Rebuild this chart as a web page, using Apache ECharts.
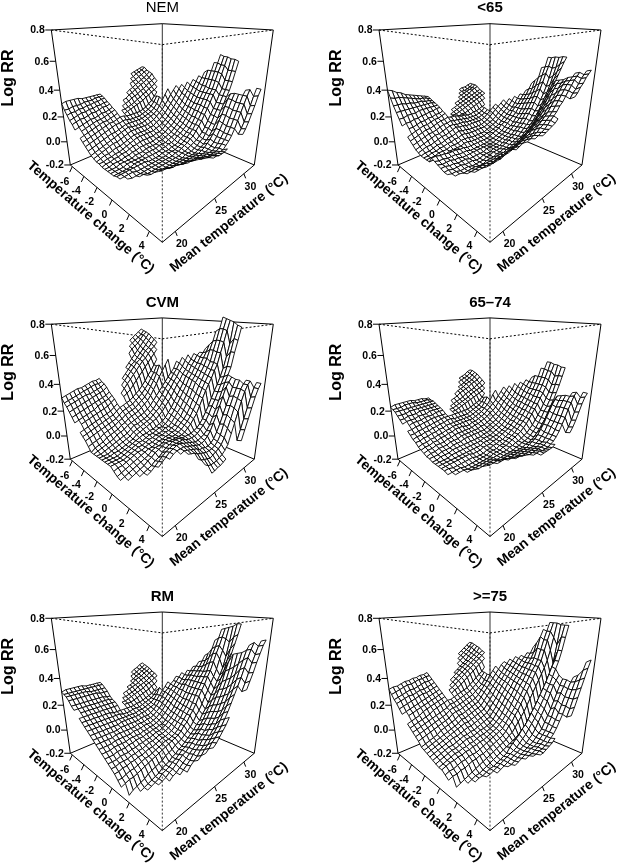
<!DOCTYPE html>
<html>
<head>
<meta charset="utf-8">
<script src="https://cdn.jsdelivr.net/npm/echarts@6/dist/echarts.min.js"></script>
<style>html,body{margin:0;padding:0;background:#fff}#main{width:617px;height:866px}</style>
</head>
<body>
<div id="main"></div>
<script>
// axis ranges of the box and tick labels
var tempRange = [-6.36, 5.14];
var meanRange = [18.65, 32.16];
var logRange = [-0.2, 0.8];
var tempTicks = [-6, -4, -2, 0, 2, 4];
var meanTicks = [20, 25, 30];
var logTicks = [-0.2, 0.0, 0.2, 0.4, 0.6, 0.8];
var panelNames = ['NEM', '<65', 'CVM', '65\u201374', 'RM', '>=75'];

// mesh has 33x33 nodes. Each table row is one temperature change node, written as
// [first mean temperature node, [log RR x 100, ...], next start, [...]], estimated from each panel
var meshSize = 33;
var holeCells = [[5,0],[6,0]];

var nem = [
	[0,[30,31,31,31,31,30,30,30,30,30,30],20,[41,42,43,44,45]],
	[0,[26,26,27,27,27,28,28,28,29,29,29],19,[38,39,41,42,43,45]],
	[0,[23,24,24,25,25,26,26,27,27,28,28],18,[35,36,37,39,40,42,43]],
	[0,[20,21,22,23,23,24,24,25,25,26,26],16,[29,31,32,34,35,37,38,40,42]],
	[0,[18,19,20,20,21,22,22,23,24,24,25],14,[25,26,28,29,31,32,34,35,37,38,41]],
	[0,[15,16,17,18,19,19,20,21,21,22,23],13,[22,23,24,26,27,28,30,31,33,35,36,38]],
	[0,[13,14,15,16,17,18,18,19,20,21,22],12,[20,20,21,22,23,25,26,28,29,31,32,34,36]],
	[0,[11,12,13,14,15,16,17,17,18,19,20],12,[18,19,20,21,22,23,24,26,27,29,30,32]],
	[0,[9,10,11,12,13,14,15,16,16,17,18,18,17,17,17,17,17,18,19,21,23,26,29]],
	[0,[7,8,9,10,11,12,13,14,15,15,16,16,15,15,15,15,16,17,18,20,23,27]],
	[0,[5,6,7,8,9,10,11,11,12,13,14,14,14,14,14,14,15,16,17,19,22,27]],
	[0,[3,4,5,6,7,8,9,10,11,12,13,12,12,12,12,13,14,15,16,18,21,25,29,33]],
	[0,[2,3,4,5,6,7,7,8,9,10,11,11,11,11,11,11,12,13,15,17,19,22,25,29,32,35]],
	[0,[1,2,3,3,4,5,5,6,7,8,9,9,9,9,9,10,10,12,13,15,17,20,23,26,29,33,36]],
	[0,[1,1,2,2,3,3,4,5,6,7,8,8,8,8,8,8,9,10,11,13,15,18,21,24,27,30,34,38]],
	[0,[0,1,1,2,2,3,3,4,5,5,6,6,6,6,6,7,7,8,10,12,14,16,19,22,25,29,32,36,40]],
	[0,[0,0,1,1,1,2,2,3,3,4,4,4,4,4,5,5,6,7,9,10,12,15,17,20,23,27,31,35,39,43]],
	[0,[0,0,0,1,1,1,1,2,2,2,3,3,3,3,4,4,5,6,7,9,11,13,16,19,22,26,30,34,38,42,46]],
	[0,[0,0,0,0,1,1,1,1,1,2,2,2,2,3,3,3,4,5,6,8,10,12,15,18,22,25,29,33,37,42,48]],
	[0,[0,0,0,0,0,1,1,1,1,1,1,1,1,2,2,3,3,4,6,7,9,11,14,17,21,25,29,33,37,42,48,54]],
	[0,[1,1,1,1,1,1,1,1,0,0,0,0,1,1,1,2,2,3,5,6,8,10,13,17,21,25,29,33,36,42,48,54,60]],
	[0,[1,1,1,1,0,0,0,0,0,0,0,0,0,1,1,1,2,3,4,6,8,10,13,16,20,24,29,33,36,42,48,53,59]],
	[1,[1,0,0,0,0,0,0,0,0,0,0,0,0,1,1,2,3,4,6,7,10,13,16,20,24,28,33,36,41,47,53,59]],
	[3,[1,1,0,0,0,0,0,0,0,0,0,0,1,1,2,3,4,5,7,9,12,16,20,24,28,33,37,43,50,58]],
	[4,[2,1,1,1,0,0,0,0,0,0,0,1,1,1,2,3,5,6,9,12,15,20,24,28,33,37,43,50,58]],
	[6,[3,2,2,1,1,1,1,1,1,1,1,1,2,3,4,6,8,11,15,19,24,28,33,37,43,50,57]],
	[8,[4,3,3,2,2,2,2,2,2,2,3,4,6,8,11,14,19,23,28,33,36]],
	[10,[5,4,4,3,3,3,3,3,3,4,5,7,10,14,18,23,28,33,37]],
	[11,[6,6,5,5,4,4,4,4,4,5,7,10,13,17,22,27,32,37]],
	[13,[7,6,6,5,5,5,5,6,8,10,13,17,22,27,32,37,40]],
	[14,[8,7,7,6,6,6,6,8,10,13,17,22,27,32,37,41]],
	[15,[8,8,7,7,7,8],24,[14,17,21,26,31,37,42]],
	[24,[15,18,22,27,32,38,42]]
];
var under65 = [
	[0,[40,39,37,36,34,33,32,31,30,29,28],20,[27,28,28,29,30]],
	[0,[35,34,34,33,32,31,30,29,29,28,27],19,[25,26,26,27,28,30]],
	[0,[30,30,30,29,29,28,28,28,27,27,26],18,[23,24,25,26,27,28,30]],
	[0,[26,26,26,26,26,26,26,26,26,26,25],16,[20,21,22,23,24,25,27,28,29]],
	[0,[22,22,23,23,23,24,24,24,24,24,24],14,[17,18,19,20,21,22,23,24,25,26,27]],
	[0,[18,19,19,20,20,21,21,22,22,23,23],13,[15,16,17,18,19,20,21,22,23,24,25,26]],
	[0,[15,16,16,17,18,18,19,19,20,20,21],12,[14,15,15,16,17,18,19,20,21,22,23,24,25]],
	[0,[12,13,14,15,16,16,17,18,18,19,20],12,[14,14,14,15,15,16,17,18,19,20,21,22]],
	[0,[10,11,12,13,14,14,15,16,17,17,18,17,17,16,15,15,14,14,15,15,16,17,18]],
	[0,[8,9,10,11,12,12,13,14,15,15,16,15,15,14,14,13,13,13,13,14,15,17]],
	[0,[6,7,8,9,10,11,11,12,13,14,14,13,13,13,12,12,12,12,12,13,14,16]],
	[0,[5,6,7,7,8,9,10,10,11,12,13,12,12,11,11,11,11,11,11,12,14,16,18,20]],
	[0,[4,5,5,6,7,7,8,9,9,10,11,10,10,9,9,9,9,9,10,11,13,15,17,19,21,23]],
	[0,[4,4,5,5,6,6,7,7,8,8,9,9,8,8,8,8,8,8,9,10,11,13,15,17,19,21,24]],
	[0,[4,4,4,5,5,5,6,6,6,7,7,7,6,6,6,6,6,7,8,9,10,12,14,16,18,20,23,26]],
	[0,[4,4,4,4,4,5,5,5,5,6,6,5,5,5,5,5,6,6,7,8,9,11,13,15,17,19,22,25,28]],
	[0,[8,8,7,7,6,6,6,5,5,4,4,4,4,4,4,4,5,6,7,8,10,11,13,15,18,20,22,25,28,31]],
	[0,[7,6,6,5,5,5,4,4,4,3,3,3,3,3,3,4,4,5,6,7,9,11,13,15,17,20,23,26,29,33,37]],
	[0,[6,5,5,5,4,4,3,3,3,3,3,3,3,3,3,3,4,5,6,7,9,10,12,15,17,20,24,27,30,34,40]],
	[0,[5,5,4,4,3,3,3,2,2,2,2,2,3,3,3,3,4,5,6,7,9,11,13,15,18,21,25,28,32,37,43,50]],
	[0,[4,4,3,3,3,2,2,2,1,1,2,2,2,3,3,3,4,5,6,7,9,11,13,16,19,22,26,30,34,39,45,51,58]],
	[0,[4,3,3,2,2,2,1,1,1,1,2,2,3,3,3,4,5,6,7,8,10,12,14,17,20,23,27,31,36,41,47,52,58]],
	[1,[3,3,2,2,2,2,1,1,2,2,2,3,3,4,4,5,6,7,8,10,12,14,16,19,22,25,29,33,38,44,51,59]],
	[3,[3,3,3,3,3,3,3,3,4,4,4,5,5,6,7,8,9,11,13,15,17,20,23,27,31,35,40,46,52,59]],
	[4,[4,4,4,4,4,4,5,5,5,6,7,7,8,9,11,12,14,16,18,21,25,28,32,36,40,45,50,55,60]],
	[6,[6,6,6,7,7,8,8,9,10,11,12,13,15,16,18,20,23,26,29,33,37,41,45,49,53,57,60]],
	[8,[9,9,10,11,11,12,13,14,15,17,18,20,22,24,27,30,33,37,41,44,46]],
	[10,[13,14,14,15,16,17,18,20,21,23,25,27,30,33,36,39,42,45,47]],
	[11,[15,16,17,18,19,20,22,24,26,28,30,33,36,39,42,45,47,49]],
	[13,[19,20,21,22,24,25,27,29,31,34,37,40,43,46,48,50,52]],
	[14,[21,22,23,24,26,28,30,32,35,37,40,43,46,49,51,53]],
	[15,[23,24,25,26,27,29],24,[39,42,44,47,50,52,54]],
	[24,[41,43,46,48,51,53,55]]
];
var cvm = [
	[0,[30,31,32,33,34,34,35,36,37,37,38],20,[64,66,68,70,72]],
	[0,[27,28,29,30,31,32,33,34,35,35,36],19,[60,62,64,66,68,71]],
	[0,[25,26,27,28,29,30,30,31,32,33,35],18,[55,58,60,62,65,68,70]],
	[0,[22,23,24,25,26,27,28,29,30,31,33],16,[45,48,51,54,57,60,63,66,69]],
	[0,[19,20,21,22,23,24,25,26,27,28,30],14,[38,41,44,47,49,52,55,58,61,64,67]],
	[0,[16,17,18,19,20,21,23,24,25,26,28],13,[34,37,40,43,46,49,51,54,57,59,62,65]],
	[0,[13,15,16,17,18,19,20,21,22,24,26],12,[29,32,35,38,41,44,47,50,52,55,58,60,63]],
	[0,[11,12,13,14,15,16,17,18,19,21,23],12,[27,29,31,34,37,40,43,46,49,52,55,58]],
	[0,[9,10,11,12,13,14,15,16,17,19,21,22,23,24,26,28,30,33,36,40,43,47,51]],
	[0,[7,8,9,10,11,12,13,14,15,17,19,20,21,22,24,26,28,31,34,38,42,47]],
	[0,[4,5,6,7,9,10,11,12,14,15,17,18,19,20,22,24,26,29,33,37,42,48]],
	[0,[1,3,4,5,7,8,9,10,12,13,15,16,17,18,20,22,24,27,31,35,40,44,48,52]],
	[0,[1,2,3,4,5,6,8,9,10,12,13,14,15,16,17,19,21,24,27,30,33,36,39,42,45,50]],
	[0,[1,1,2,3,4,5,6,7,8,10,12,12,13,14,15,17,19,22,25,28,32,35,38,42,45,49,53]],
	[0,[1,1,1,2,3,4,5,6,7,9,10,11,12,13,14,16,18,20,23,26,30,33,37,40,44,47,51,55]],
	[0,[1,1,1,2,2,3,4,5,6,8,9,10,11,12,13,14,16,18,21,24,27,31,35,38,42,45,49,52,56]],
	[0,[1,1,1,1,2,3,4,5,6,7,8,8,9,9,10,11,12,14,17,20,24,28,32,36,41,44,48,51,55,57]],
	[0,[1,1,1,1,2,3,4,5,6,6,7,8,8,9,10,10,11,13,16,19,23,27,31,35,40,43,47,50,54,57,60]],
	[0,[1,1,1,1,2,3,4,5,5,6,7,7,8,8,9,10,10,12,15,18,21,25,29,34,39,42,46,50,54,58,63]],
	[0,[-1,0,0,1,2,3,4,4,5,6,6,7,8,8,9,9,10,11,14,16,20,24,28,33,38,41,45,49,54,60,66,73]],
	[0,[-3,-2,-1,0,1,2,3,4,5,5,6,7,7,8,8,9,9,11,13,15,18,22,27,31,36,40,44,48,52,60,67,75,83]],
	[0,[-4,-3,-2,-1,0,1,2,3,5,6,6,7,8,8,8,8,9,10,12,14,17,21,25,30,35,39,43,47,52,59,67,75,82]],
	[1,[-4,-3,-2,-1,0,2,3,5,6,7,8,8,8,8,8,8,9,11,13,16,19,24,29,34,38,42,47,51,59,66,74,81]],
	[3,[-3,-2,-1,0,2,3,5,7,8,9,9,9,8,8,8,8,9,10,12,15,19,23,28,33,37,42,48,56,65,80]],
	[4,[-2,-1,1,3,5,7,8,9,9,9,9,8,7,7,7,8,10,12,15,19,24,28,33,38,43,50,60,69,78]],
	[6,[2,4,6,8,9,10,10,9,8,7,6,5,5,6,7,9,12,17,22,28,34,40,45,50,60,68,77]],
	[8,[6,8,9,9,9,8,7,6,5,4,4,5,7,10,15,20,26,32,38,41,44]],
	[10,[8,9,8,7,6,5,3,3,2,2,3,5,9,14,20,26,32,38,43]],
	[11,[8,7,6,4,3,2,1,1,1,2,4,8,15,21,27,33,38,43]],
	[13,[3,1,0,-1,-2,-1,0,1,3,7,13,19,26,32,38,41,43]],
	[14,[-1,-3,-4,-4,-4,-3,-2,0,3,10,17,24,31,37,41,43]],
	[15,[-7,-7,-6,-6,-5,-4],24,[5,12,19,26,33,39,42]],
	[24,[6,13,20,27,34,39,42]]
];
var age6574 = [
	[0,[23,24,24,24,24,24,23,23,23,22,22],20,[32,33,34,36,37]],
	[0,[22,22,22,23,23,23,22,22,22,22,21],19,[30,31,32,33,35,37]],
	[0,[21,21,21,21,21,21,21,21,21,21,21],18,[27,28,29,31,32,34,36]],
	[0,[19,19,19,20,20,20,20,20,20,20,20],16,[23,25,26,27,29,30,31,33,35]],
	[0,[17,17,18,18,18,19,19,19,19,19,19],14,[20,21,22,24,25,26,27,29,30,31,33]],
	[0,[15,16,16,16,17,17,17,18,18,18,18],13,[17,18,19,20,21,23,24,25,26,28,29,31]],
	[0,[14,14,15,15,15,16,16,16,17,17,17],12,[16,16,17,18,19,20,21,23,24,25,26,27,29]],
	[0,[12,12,13,13,14,14,15,15,15,15,15],12,[15,15,16,17,18,19,20,21,22,23,24,26]],
	[0,[10,10,11,11,12,12,13,13,14,14,14,14,14,14,14,14,14,15,16,17,18,20,23]],
	[0,[8,9,9,10,10,11,11,12,12,13,13,12,12,12,12,12,13,14,15,16,18,21]],
	[0,[7,7,8,8,9,9,10,10,11,11,11,11,11,11,11,11,12,13,14,15,18,22]],
	[0,[5,6,6,7,7,8,8,9,9,10,10,10,10,10,10,10,11,12,13,15,17,20,24,27]],
	[0,[4,5,5,6,6,7,7,8,8,9,9,9,8,8,9,9,10,11,12,14,16,18,20,23,26,29]],
	[0,[3,4,4,5,5,5,6,6,7,7,7,7,7,7,8,8,9,10,11,13,14,16,19,21,24,27,30]],
	[0,[2,3,3,4,4,4,5,5,5,6,6,6,6,6,6,7,7,8,9,11,12,14,17,20,22,25,28,32]],
	[0,[2,2,2,3,3,3,4,4,4,5,5,5,5,5,5,5,6,7,8,9,11,13,15,18,21,23,26,30,33]],
	[0,[1,1,2,2,2,3,3,3,3,3,3,3,3,3,4,4,5,6,7,8,10,12,14,17,19,22,25,29,32,35]],
	[0,[1,1,1,1,2,2,2,2,2,2,2,2,2,3,3,3,4,5,6,7,9,11,13,16,18,21,24,28,31,34,37]],
	[0,[1,1,1,1,1,1,1,1,1,1,1,1,2,2,2,3,3,4,5,6,8,10,12,15,18,21,24,27,30,34,39]],
	[0,[1,1,1,1,1,1,1,1,0,0,0,1,1,1,2,2,3,4,5,6,8,10,12,14,17,20,23,27,30,34,39,45]],
	[0,[1,1,0,0,0,0,0,0,-1,-1,-1,0,0,1,1,2,2,3,4,6,7,9,11,14,17,20,23,26,30,34,39,45,50]],
	[0,[0,0,0,0,-1,-1,-1,-1,-1,-1,-1,0,0,0,1,1,2,3,4,5,7,9,11,13,16,19,22,26,30,34,39,44,50]],
	[1,[0,0,0,-1,-1,-1,-1,-1,-1,-1,0,0,0,1,1,2,3,4,5,6,8,10,13,16,19,22,26,29,33,38,44,49]],
	[3,[0,0,0,0,0,0,0,0,0,0,0,0,1,1,2,2,3,4,5,7,9,12,15,18,22,26,30,35,41,49]],
	[4,[2,1,1,1,1,1,0,0,0,0,0,0,1,1,2,2,3,4,6,8,11,14,18,21,25,30,36,42,48]],
	[6,[3,2,2,2,1,1,1,1,1,1,1,1,2,2,3,4,6,8,11,14,18,22,26,31,36,42,48]],
	[8,[3,3,3,2,2,2,2,2,2,2,3,4,5,7,10,13,17,21,25,28,30]],
	[10,[4,4,3,3,3,3,3,3,3,4,5,7,9,13,16,20,24,28,31]],
	[11,[5,5,4,4,4,4,4,4,5,5,7,9,13,16,20,25,29,32]],
	[13,[6,5,5,5,5,5,5,6,7,9,12,16,20,25,29,32,34]],
	[14,[6,6,6,5,5,5,6,7,9,12,16,20,25,29,33,35]],
	[15,[6,6,6,6,6,7],24,[11,14,18,23,28,32,35]],
	[24,[12,15,19,24,29,33,35]]
];
var rm = [
	[0,[30,31,31,31,31,31,30,30,30,30,30],20,[32,34,35,37,38]],
	[0,[29,29,29,29,29,29,29,29,29,29,29],19,[30,31,32,34,35,37]],
	[0,[28,28,28,28,28,28,27,27,27,27,27],18,[27,28,30,31,33,34,36]],
	[0,[26,26,26,26,26,26,26,26,25,25,25],16,[24,25,26,28,29,30,32,33,35]],
	[0,[23,23,23,23,23,23,23,23,23,22,22],14,[21,22,23,24,25,26,28,29,30,32,33]],
	[0,[21,21,21,21,21,21,21,21,21,21,20],13,[19,19,20,21,22,24,25,26,27,29,30,32]],
	[0,[19,19,19,19,19,19,19,19,19,19,19],12,[17,17,18,19,20,21,22,23,25,26,27,29,30]],
	[0,[17,17,17,17,17,17,17,17,17,17,17],12,[16,16,16,17,18,19,20,21,22,24,25,27]],
	[0,[15,15,15,15,15,15,15,15,14,14,14,14,14,14,14,15,15,16,17,18,19,21,23]],
	[0,[13,13,13,13,13,13,13,13,13,13,12,12,12,13,13,13,14,15,16,17,19,22]],
	[0,[11,11,11,11,11,11,11,11,11,11,11,11,11,11,12,12,13,14,15,17,20,25]],
	[0,[9,9,9,9,9,9,9,9,10,10,10,10,10,10,11,11,12,13,14,17,20,23,26,29]],
	[0,[7,7,7,7,7,7,7,8,8,8,8,8,8,9,9,9,10,12,14,17,20,23,25,28,30,33]],
	[0,[5,5,5,5,5,6,6,6,6,6,6,7,7,7,8,8,9,11,13,16,19,22,25,27,30,33,36]],
	[0,[3,3,3,3,4,4,4,4,4,5,5,5,6,6,6,7,8,10,12,15,18,21,24,27,29,32,35,38]],
	[0,[1,1,1,2,2,2,2,3,3,3,3,4,4,5,5,6,7,9,11,14,17,20,23,26,29,32,35,38,41]],
	[0,[-1,-1,-1,0,0,0,1,1,2,2,2,3,3,4,4,5,5,7,10,12,15,19,22,26,30,33,36,39,42,45]],
	[0,[-3,-3,-3,-2,-2,-2,-1,-1,0,0,1,1,2,3,3,4,5,7,9,12,15,18,21,25,29,33,36,39,42,46,50]],
	[0,[-5,-5,-4,-4,-4,-3,-3,-2,-2,-1,0,0,1,2,2,3,4,6,8,11,14,17,21,25,29,33,36,40,43,47,52]],
	[0,[-7,-7,-6,-6,-5,-5,-4,-4,-3,-2,-2,-1,0,1,1,2,3,5,8,10,14,17,21,25,29,33,37,40,45,50,56,62]],
	[0,[-10,-10,-9,-8,-8,-7,-6,-5,-5,-4,-3,-2,-1,0,0,1,2,4,7,10,13,16,20,25,29,33,37,41,47,53,58,64,70]],
	[0,[-13,-12,-11,-11,-10,-9,-8,-7,-6,-5,-4,-3,-2,-1,0,1,2,4,7,9,13,16,20,25,29,33,38,42,48,54,59,65,71]],
	[1,[-19,-17,-16,-15,-14,-12,-11,-10,-9,-8,-6,-5,-4,-2,-1,0,2,4,6,9,13,16,20,25,29,34,38,43,50,56,64,72]],
	[3,[-18,-17,-16,-15,-14,-13,-11,-10,-9,-7,-6,-4,-3,-1,1,3,5,8,10,14,17,21,26,30,35,39,44,52,62,73]],
	[4,[-17,-16,-15,-14,-12,-11,-10,-8,-7,-5,-3,-2,0,2,4,6,9,12,16,20,24,28,33,38,43,50,58,66,75]],
	[6,[-15,-14,-13,-11,-10,-8,-6,-4,-3,-1,1,3,6,8,11,14,18,22,27,32,37,44,50,56,62,68,75]],
	[8,[-14,-12,-11,-9,-7,-5,-3,-1,1,3,6,8,11,15,19,23,28,33,39,46,56]],
	[10,[-11,-9,-7,-5,-2,0,2,5,7,10,13,16,20,25,30,35,41,48,57]],
	[11,[-9,-6,-4,-2,1,3,6,8,11,14,18,22,27,32,38,44,51,58]],
	[13,[-2,0,3,5,8,11,14,18,22,26,31,36,42,48,54,60,63]],
	[14,[3,5,8,10,13,16,20,24,29,34,39,44,50,56,61,65]],
	[15,[7,9,12,15,18,22],24,[36,41,47,53,58,63,66]],
	[24,[38,43,48,54,59,64,67]]
];
var over75 = [
	[0,[32,33,33,34,35,35,36,36,37,37,38],20,[48,50,52,54,56]],
	[0,[29,30,31,32,33,33,34,35,35,36,36],19,[45,47,49,51,53,56]],
	[0,[26,27,28,29,30,30,31,32,33,33,34],18,[42,44,46,48,50,53,55]],
	[0,[24,25,26,27,27,28,29,29,30,31,32],16,[36,38,40,42,44,47,49,51,54]],
	[0,[21,22,23,24,25,26,27,27,28,29,30],14,[32,34,36,38,40,42,44,46,48,50,53]],
	[0,[18,19,20,21,22,23,24,25,26,27,28],13,[29,31,33,35,37,39,41,43,45,47,49,51]],
	[0,[16,17,18,19,20,21,22,23,24,25,26],12,[27,28,30,32,34,36,38,40,42,44,46,48,50]],
	[0,[13,14,15,16,18,19,20,21,22,23,24],12,[25,27,28,30,32,34,36,38,40,42,44,46]],
	[0,[11,12,13,14,15,16,18,19,20,21,22,22,23,24,25,26,27,29,31,33,35,37,40]],
	[0,[9,10,11,12,13,14,15,16,17,18,20,20,21,22,23,24,25,27,29,31,34,37]],
	[0,[7,8,9,10,11,12,13,14,15,17,18,18,19,20,21,22,23,25,27,29,32,36]],
	[0,[5,6,7,8,9,10,11,12,13,15,16,16,17,18,19,20,21,23,26,29,32,36,39,42]],
	[0,[2,3,4,5,6,8,9,10,11,12,14,14,15,16,17,18,19,22,25,28,31,34,37,40,43,45]],
	[0,[1,2,3,4,5,6,7,8,9,10,12,12,13,14,15,16,17,20,23,26,29,32,35,38,41,44,47]],
	[0,[0,1,2,3,4,5,6,7,8,9,10,10,11,12,13,14,15,18,21,24,28,31,34,37,40,43,46,49]],
	[0,[-1,0,1,2,3,4,5,5,6,7,8,8,9,10,11,12,13,16,19,22,26,30,33,36,39,42,45,48,50]],
	[0,[-2,-1,0,1,2,2,3,4,5,5,6,6,7,8,9,10,11,14,17,21,25,28,32,35,38,41,44,47,49,52]],
	[0,[-3,-2,-1,0,1,1,2,3,4,4,4,5,6,6,7,8,10,13,16,19,23,27,30,34,37,40,43,46,49,52,56]],
	[0,[-4,-3,-2,-1,0,0,1,1,2,2,3,4,4,5,6,7,9,11,14,18,22,25,29,33,36,39,43,46,49,53,60]],
	[0,[-4,-3,-2,-2,-1,-1,0,0,1,1,2,2,3,4,5,6,8,10,13,16,20,24,28,32,35,39,42,46,50,57,65,70]],
	[0,[-6,-5,-5,-4,-3,-3,-2,-2,-2,-1,0,1,2,3,4,5,6,9,12,15,18,22,26,30,34,38,42,45,49,56,63,69,75]],
	[0,[-8,-7,-7,-6,-6,-5,-4,-4,-3,-3,-2,-1,0,1,2,3,5,8,10,14,17,21,25,29,33,37,41,45,49,56,63,69,75]],
	[1,[-13,-12,-11,-10,-9,-8,-7,-6,-5,-4,-3,-2,-1,0,1,3,4,7,10,13,16,20,24,28,32,36,40,44,49,56,65,75]],
	[3,[-12,-11,-10,-10,-9,-8,-7,-6,-5,-4,-3,-2,-1,0,1,2,4,6,9,12,15,19,23,27,31,35,40,47,60,74]],
	[4,[-11,-10,-10,-9,-8,-8,-7,-6,-5,-4,-1,1,3,5,8,10,13,17,20,24,28,32,36,41,46,50,57,66,74]],
	[6,[-9,-9,-8,-7,-6,-5,-4,-3,-2,-1,1,3,5,8,11,14,18,22,26,31,35,40,45,50,57,66,74]],
	[8,[-8,-7,-6,-5,-4,-3,-2,-1,0,1,3,5,8,12,16,20,25,30,35,38,41]],
	[10,[-5,-5,-4,-3,-2,-1,0,1,2,4,6,8,12,16,20,25,30,35,39]],
	[11,[-4,-3,-2,-1,0,1,1,2,4,6,8,12,16,22,26,31,35,39]],
	[13,[-1,0,0,1,2,3,4,6,8,11,15,19,24,29,34,38,41]],
	[14,[1,1,2,2,3,4,6,8,11,15,19,24,29,34,39,43]],
	[15,[2,2,3,4,5,7],24,[18,23,29,35,41,47,52]],
	[24,[20,25,31,37,43,49,54]]
];
var panelTables = [nem, under65, cvm, age6574, rm, over75];

// where each box sits on the page (box centre), and the view of the box
var panelX = [162.3, 490];
var panelY = [103.8, 398, 692.1];
var unitPx = 100.6;
var font = '"Liberation Sans", Arial, sans-serif';

function project(temp, mean, logrr) {
	var a = (temp - tempRange[0]) / (tempRange[1] - tempRange[0]) * 2 - 1;
	var b = (mean - meanRange[0]) / (meanRange[1] - meanRange[0]) * 2 - 1;
	var c = (logrr - logRange[0]) / (logRange[1] - logRange[0]) * 2 - 1;
	var h = (a + b) / 2, t = (a - b) / 2;
	var w = 1 - 0.0936 * c - 0.3607 * t;
	return [h / w, (0.665 * c - 0.344 * t) / w];
}

function nodeTemp(i) { return tempRange[0] + (tempRange[1] - tempRange[0]) * i / (meshSize - 1); }
function nodeMean(j) { return meanRange[0] + (meanRange[1] - meanRange[0]) * j / (meshSize - 1); }

// put a table's rows on the full mesh
function toMatrix(table) {
	var m = [];
	for (var i = 0; i < meshSize; i++) {
		var row = [];
		for (var j = 0; j < meshSize; j++) row.push(null);
		for (var s = 0; s < table[i].length; s += 2) {
			var start = table[i][s], vals = table[i][s + 1];
			for (var k = 0; k < vals.length; k++) row[start + k] = vals[k];
		}
		m.push(row);
	}
	return m;
}

function isHole(i, j) {
	return holeCells.some(function(h) { return h[0] == i && h[1] == j; });
}

function surfaceSeries(p) {
	var m = toMatrix(panelTables[p]);
	var cells = [];
	// back to front, so nearer cells paint over farther ones
	for (var i = 0; i < meshSize - 1; i++) {
		for (var j = meshSize - 2; j >= 0; j--) {
			if (m[i][j] === null || m[i + 1][j] === null || m[i][j + 1] === null || m[i + 1][j + 1] === null) continue;
			if (isHole(i, j)) continue;
			cells.push([i, j]);
		}
	}
	return {
		type: 'custom',
		coordinateSystem: 'cartesian2d',
		xAxisIndex: p,
		yAxisIndex: p,
		silent: true,
		z: 3,
		progressive: 0,
		data: cells,
		encode: {x: [], y: []},
		renderItem: function(params, api) {
			var c = cells[params.dataIndex], i = c[0], j = c[1];
			var pts = [[i, j], [i + 1, j], [i + 1, j + 1], [i, j + 1]].map(function(n) {
				return api.coord(project(nodeTemp(n[0]), nodeMean(n[1]), m[n[0]][n[1]] / 100));
			});
			return {
				type: 'polygon',
				z2: params.dataIndex,
				shape: {points: pts},
				style: {fill: '#fff', stroke: '#000', lineWidth: 0.9}
			};
		}
	};
}

function line(a, b, api, dash, color) {
	var p0 = api.coord(project(a[0], a[1], a[2]));
	var p1 = api.coord(project(b[0], b[1], b[2]));
	return {
		type: 'line',
		shape: {x1: p0[0], y1: p0[1], x2: p1[0], y2: p1[1]},
		style: {stroke: color || '#000', lineWidth: 1, lineDash: dash || null}
	};
}

function text(str, x, y, size, weight, align, rot) {
	return {
		type: 'text',
		x: x, y: y, rotation: rot || 0,
		style: {text: str, fill: '#000', font: weight + ' ' + size + 'px ' + font, align: align || 'center', verticalAlign: 'middle'}
	};
}

function groupSeries(p, z, build) {
	return {
		type: 'custom',
		coordinateSystem: 'cartesian2d',
		xAxisIndex: p,
		yAxisIndex: p,
		silent: true,
		z: z,
		data: [[0, 0]],
		renderItem: function(params, api) {
			return {type: 'group', children: build(api)};
		}
	};
}

var t0 = tempRange[0], t1 = tempRange[1], m0 = meanRange[0], m1 = meanRange[1], z0 = logRange[0], z1 = logRange[1];

function backBox(api) {
	return [
		line([t0, m1, z0], [t0, m1, z1], api, null, '#333'),
		line([t0, m0, z0], [t0, m1, z0], api),
		line([t0, m1, z0], [t1, m1, z0], api),
		line([t0, m0, z0], [t0, m0, z1], api),
		line([t1, m1, z0], [t1, m1, z1], api),
		line([t0, m0, z1], [t0, m1, z1], api),
		line([t0, m1, z1], [t1, m1, z1], api),
		line([t0, m0, z1], [t1, m0, z1], api, [2, 2]),
		line([t1, m0, z1], [t1, m1, z1], api, [2, 2])
	];
}

function frontBox(p, api) {
	var out = [
		line([t1, m0, z0], [t1, m0, z1], api, [2, 2], '#333'),
		line([t0, m0, z0], [t1, m0, z0], api),
		line([t1, m0, z0], [t1, m1, z0], api)
	];
	logTicks.forEach(function(v) {
		var q = api.coord(project(t0, m0, v));
		out.push({type: 'line', shape: {x1: q[0], y1: q[1], x2: q[0] - 6, y2: q[1]}, style: {stroke: '#000', lineWidth: 1}});
		out.push(text(v.toFixed(1), q[0] - 6.5, q[1] + 0.5, 10.5, 'bold', 'right'));
	});
	tempTicks.forEach(function(v) {
		var q = api.coord(project(v, m0, z0));
		out.push({type: 'line', shape: {x1: q[0], y1: q[1], x2: q[0] - 2.5, y2: q[1] + 5.5}, style: {stroke: '#000', lineWidth: 1}});
		out.push(text(String(v), q[0] - 7.7, q[1] + 15, 10.5, 'bold'));
	});
	meanTicks.forEach(function(v) {
		var q = api.coord(project(t1, v, z0));
		out.push({type: 'line', shape: {x1: q[0], y1: q[1], x2: q[0] + 1.8, y2: q[1] + 4.6}, style: {stroke: '#000', lineWidth: 1}});
		out.push(text(String(v), q[0] + 6.5, q[1] + 13, 10.5, 'bold'));
	});
	// panel and axis titles, placed from the box centre
	var c = api.coord([0, 0]);
	out.push(text(panelNames[p], c[0], c[1] - 95.5, 15, p == 0 ? 'normal' : 'bold'));
	out.push(text('Log RR', c[0] - 153.8, c[1] - 25.8, 16, 'bold', 'center', Math.PI / 2));
	out.push(text('Temperature change (\u00b0C)', c[0] - 71.6, c[1] + 113.5, 13.8, 'bold', 'center', -41 * Math.PI / 180));
	out.push(text('Mean temperature (\u00b0C)', c[0] + 66.7, c[1] + 119.4, 13.8, 'bold', 'center', 39 * Math.PI / 180));
	return out;
}

var grids = [], xAxes = [], yAxes = [], series = [];
panelNames.forEach(function(name, p) {
	var cx = panelX[p % 2], cy = panelY[Math.floor(p / 2)];
	// grid has to stay inside the page or echarts squeezes it
	grids.push({left: cx - 1.2 * unitPx, top: cy - 1.0 * unitPx, width: 2.4 * unitPx, height: 2.6 * unitPx});
	xAxes.push({type: 'value', gridIndex: p, min: -1.2, max: 1.2, show: false});
	yAxes.push({type: 'value', gridIndex: p, min: -1.6, max: 1.0, show: false});
	series.push(groupSeries(p, 2, backBox));
	series.push(surfaceSeries(p));
	series.push(groupSeries(p, 4, function(api) { return frontBox(p, api); }));
});

var chart = echarts.init(document.getElementById('main'), null, {renderer: 'canvas'});
chart.setOption({
	backgroundColor: '#fff',
	animation: false,
	grid: grids,
	xAxis: xAxes,
	yAxis: yAxes,
	series: series
});
</script>
</body>
</html>
